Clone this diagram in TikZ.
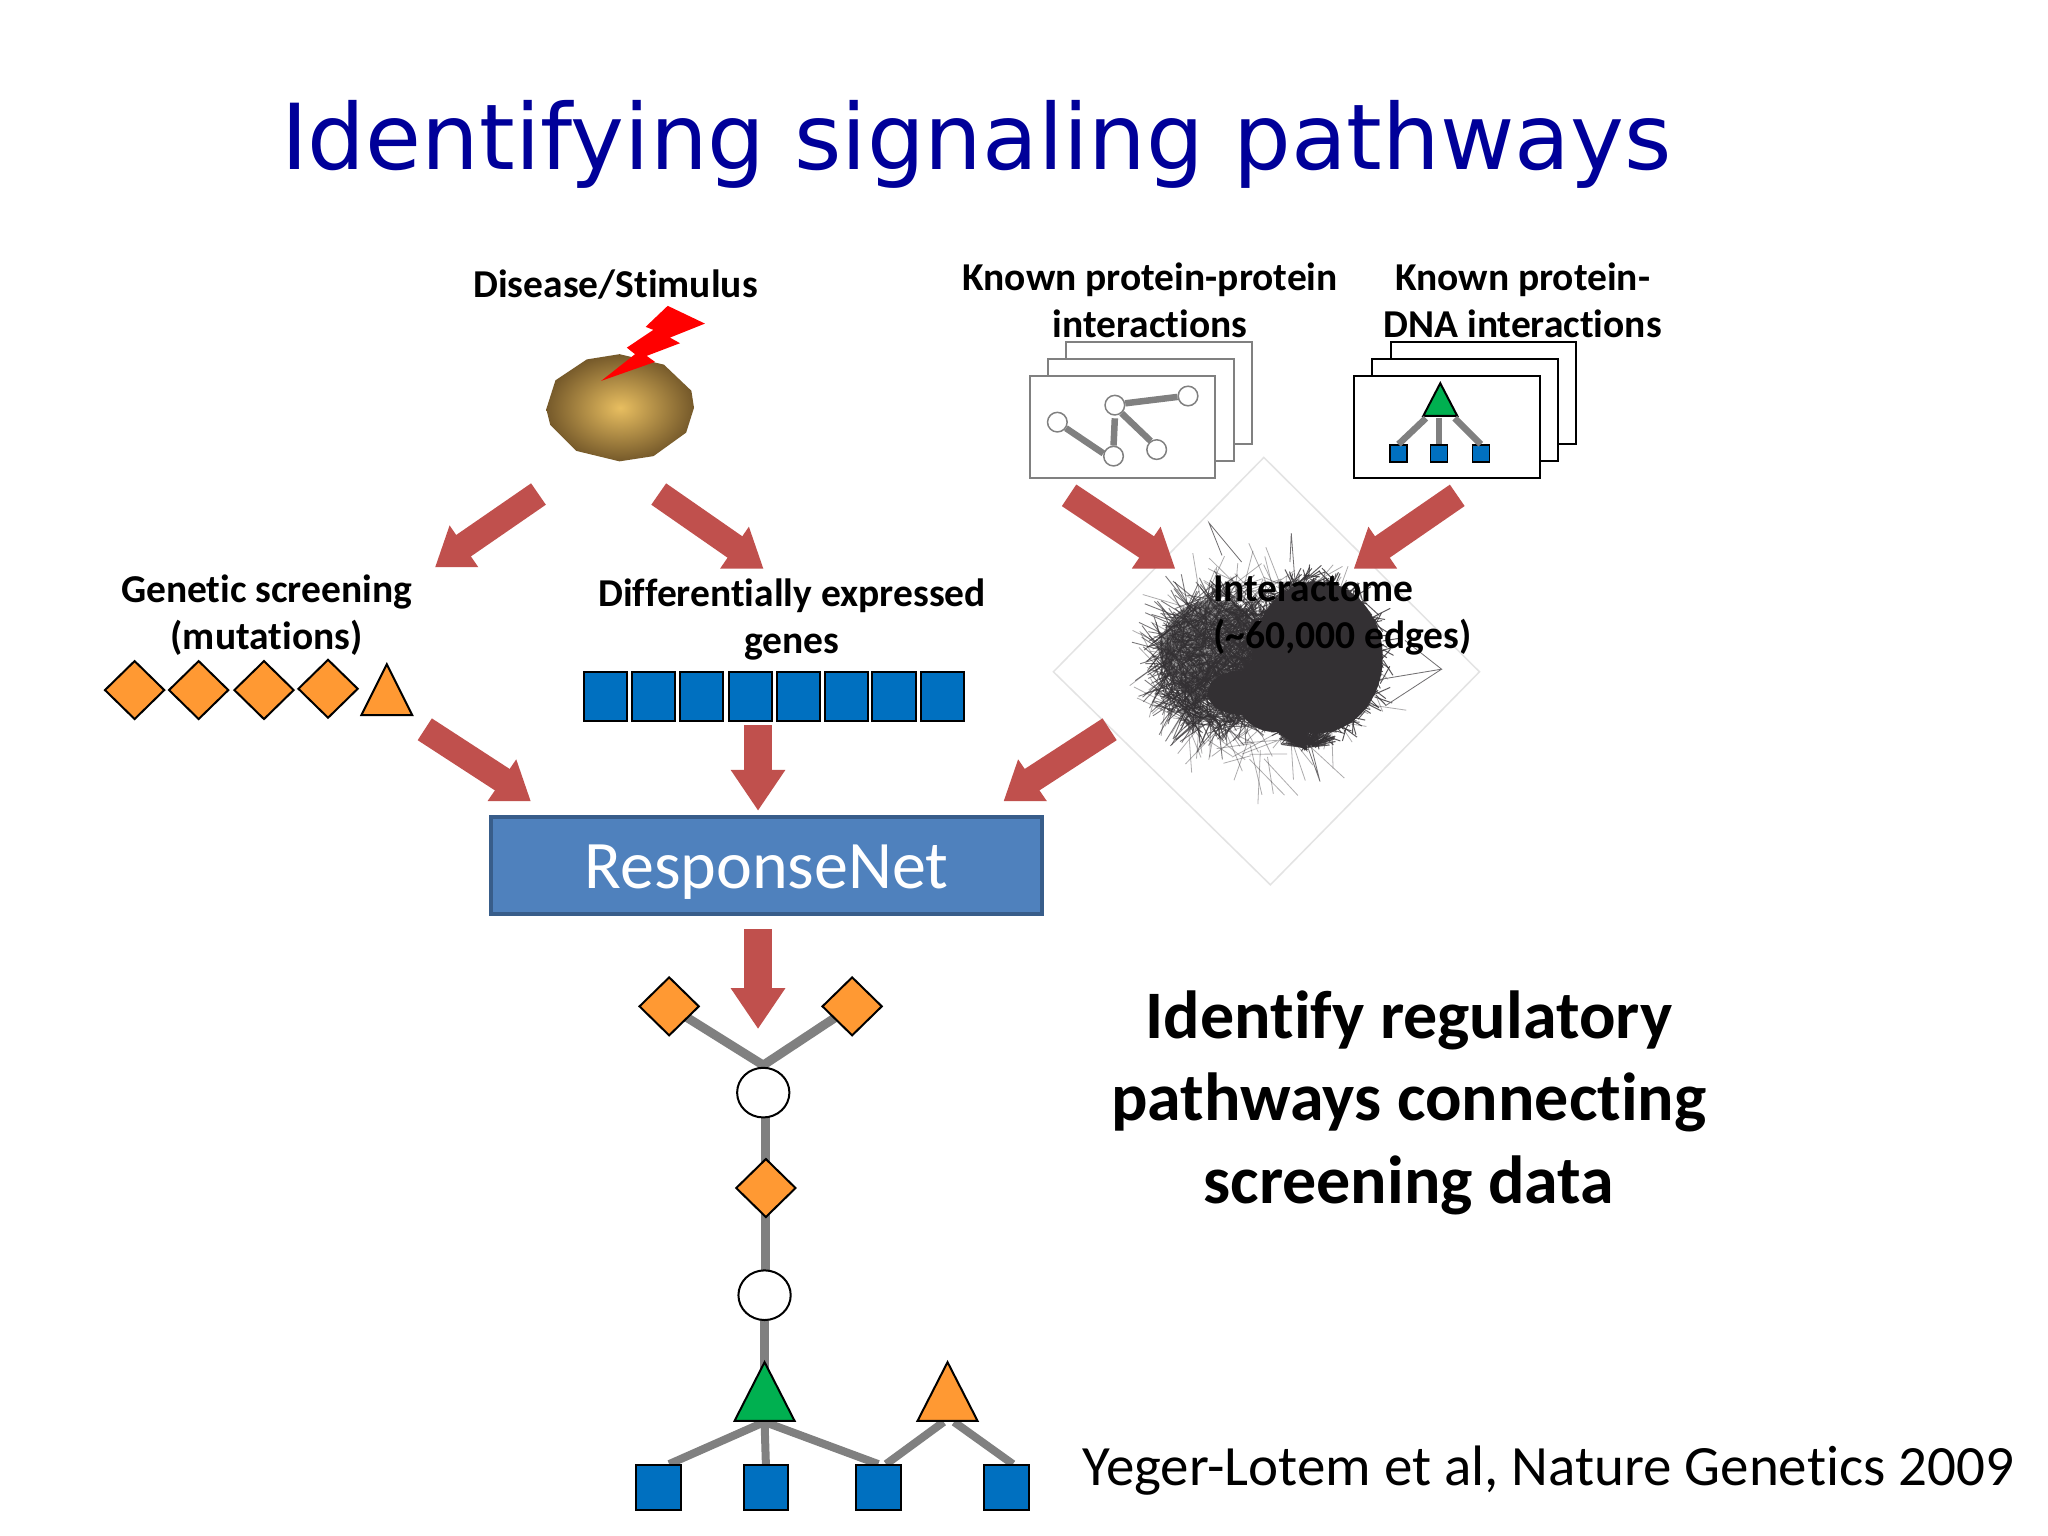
\documentclass[tikz,border=0pt]{standalone}
\usepackage{fontspec}
\setmainfont[Ligatures=NoCommon]{Carlito}
\newfontfamily\titlefont{DejaVu Sans}
\usetikzlibrary{shapes.geometric,calc,backgrounds}
\definecolor{titleblue}{HTML}{000099}
\definecolor{orangefill}{HTML}{FF9933}
\definecolor{bluefill}{HTML}{0070C0}
\definecolor{greenfill}{HTML}{00B050}
\definecolor{edgegray}{HTML}{808080}
\definecolor{arrowred}{HTML}{C0504D}
\definecolor{netdark}{HTML}{333033}
\definecolor{rnfill}{HTML}{4F81BD}
\definecolor{rnborder}{HTML}{385D8A}
\definecolor{cellin}{HTML}{E8BE60}
\definecolor{cellout}{HTML}{75592A}
\def\uu{1.30696pt}
\tikzset{
  lab/.style={font=\fontsize{39.5}{47}\selectfont\bfseries,align=center,inner sep=0,text=black},
  shaft/.style={draw=arrowred,line width=26},
  head/.style={fill=arrowred},
  ddia/.style={diamond,draw=black,line width=2,fill=orangefill,minimum width=46*\uu,minimum height=45*\uu,inner sep=0,aspect=1},
  sq/.style={rectangle,draw=black,line width=2,fill=bluefill,minimum width=33*\uu,minimum height=37*\uu,inner sep=0},
  sqb/.style={sq,minimum width=34*\uu,minimum height=34*\uu},
  sqs/.style={sq,line width=1.5,minimum width=13*\uu,minimum height=13*\uu},
  tri/.style={isosceles triangle,isosceles triangle stretches,shape border rotate=90,draw=black,line width=2,inner sep=0,anchor=lower side,minimum width=46*\uu,minimum height=45*\uu},
  circ/.style={ellipse,draw=black,line width=2,fill=white,minimum width=40*\uu,minimum height=38*\uu,inner sep=0},
  cs/.style={circle,draw=edgegray,line width=1.5,fill=white,minimum size=15*\uu,inner sep=0},
  edge/.style={draw=edgegray,line width=9},
  edges/.style={draw=edgegray,line width=8},
  edget/.style={draw=edgegray,line width=6.5},
  pagegray/.style={draw=edgegray,line width=2,fill=white},
  pageblack/.style={draw=black,line width=2,fill=white},
}
\begin{document}
\begin{tikzpicture}[x=1.30696pt,y=-1.30696pt]
\useasboundingbox (0,0) rectangle (1567,1175);
\begin{pgfonlayer}{background}
\fill[white] (0,0) rectangle (1567,1175);
\end{pgfonlayer}

\node[anchor=base,inner sep=0,text=titleblue,font=\titlefont\fontsize{91}{100}\selectfont] (title) at (747,130) {Identifying signaling pathways};

% interactome
\draw[draw=black!11,line width=1.5] (967,350) -- (1132,514) -- (972,677) -- (806,514) -- cycle;
\pgfmathsetseed{4711}
% sparse outer web
\foreach \i in {1,...,280}{
  \pgfmathsetmacro\ang{rnd*360}
  \pgfmathsetmacro\rr{0.55+0.45*rnd}
  \pgfmathsetmacro\xa{965+82*\rr*cos(\ang)}
  \pgfmathsetmacro\ya{510+72*\rr*sin(\ang)}
  \pgfmathsetmacro\angb{rnd*360}
  \pgfmathsetmacro\lb{15+rnd*30}
  \pgfmathsetmacro\xb{\xa+\lb*cos(\angb)}
  \pgfmathsetmacro\yb{\ya+\lb*sin(\angb)}
  \draw[netdark,line width=0.8,opacity=.4] (\xa,\ya) -- (\xb,\yb);
}
% denser left web
\fill[netdark,opacity=.5] (928,497) ellipse (40 and 38);
\foreach \i in {1,...,1500}{
  \pgfmathsetmacro\ang{rnd*360}
  \pgfmathsetmacro\rr{sqrt(rnd)}
  \pgfmathsetmacro\xa{932+46*\rr*cos(\ang)}
  \pgfmathsetmacro\ya{507+52*\rr*sin(\ang)}
  \pgfmathsetmacro\xb{\xa+rand*24}
  \pgfmathsetmacro\yb{\ya+rand*24}
  \draw[netdark,line width=0.9,opacity=.65] (\xa,\ya) -- (\xb,\yb);
}
% core of right blob, fringe of short edges
\foreach \i in {1,...,1000}{
  \pgfmathsetmacro\ang{rnd*360}
  \pgfmathsetmacro\rr{0.6+0.4*rnd}
  \pgfmathsetmacro\xa{1006+53*\rr*cos(\ang)}
  \pgfmathsetmacro\ya{503+62*\rr*sin(\ang)}
  \pgfmathsetmacro\xb{\xa+rand*14}
  \pgfmathsetmacro\yb{\ya+rand*14}
  \draw[netdark,line width=1,opacity=.8] (\xa,\ya) -- (\xb,\yb);
}
\foreach \i in {1,...,90}{
  \pgfmathsetmacro\xa{985+rand*16}
  \pgfmathsetmacro\xb{1000+rand*22}
  \pgfmathsetmacro\yb{560+rand*10}
  \draw[netdark,line width=1.2,opacity=.8] (\xa,555) -- (998,572) -- (\xb,\yb);
}
\draw[netdark!70,line width=0.8] (1055,520) -- (1103,512) -- (1075,490);
\draw[netdark!70,line width=0.8] (1060,540) -- (1103,512);
\draw[netdark!70,line width=0.8] (987,430) -- (988,408) -- (992,460);
\draw[netdark!70,line width=0.8] (950,430) -- (925,400) -- (935,425);
\draw[netdark!70,line width=0.8] (1000,570) -- (1010,598) -- (1003,570);
\fill[netdark] (1008,503) ellipse (50 and 58);
\fill[netdark] (950,530) ellipse (26 and 17);
\fill[netdark] (975,530) ellipse (30 and 30);

% labels
\node[lab] (disease) at (471,218) {Disease/Stimulus};
\node[lab] (ppi) at (880,230) {Known protein-protein\\interactions};
\node[lab] (pdna) at (1165,230) {Known protein-\\DNA interactions};
\node[lab] (genetic) at (204,470.5) {Genetic screening\\(mutations)};
\node[lab] (diffex) at (606,474) {Differentially expressed\\genes};
\node[lab,align=left,anchor=west] (interact) at (928,471) {Interactome\\(\textasciitilde 60,000 edges)};

% cell and bolt
\shade[inner color=cellin,outer color=cellout] (418,313) -- (425,291) -- (449,275) -- (474,271) -- (508,279) -- (529,299) -- (531,312) -- (525,331) -- (500,349) -- (474,353) -- (441,345) -- (421,325) -- cycle;
\fill[red] (510.9,234) -- (539.4,247.6) -- (512.6,258.3) -- (520.3,262.6) -- (494.8,272.3) -- (501.2,276.9) -- (460,291.4) -- (485.9,271) -- (479.6,266) -- (499.9,252.4) -- (494,250.1) -- cycle;

% PPI stack
\draw[pagegray] (816,262) rectangle (958,340);
\draw[pagegray] (802,275) rectangle (944,353);
\draw[pagegray] (788,288) rectangle (930,366);
\node[cs] (p1) at (809,323) {};
\node[cs] (p2) at (853,310) {};
\node[cs] (p3) at (909,303) {};
\node[cs] (p4) at (852,349) {};
\node[cs] (p5) at (885,344) {};
\draw[edget] (p1.-35) -- (p4.165);
\draw[edget] (p2.10) -- (p3.185);
\draw[edget] ($(p2.south)+(0,2)$) -- (p4.north);
\draw[edget] (p2.-50) -- (p5.125);

% PDNA stack
\draw[pageblack] (1064,262) rectangle (1206,340);
\draw[pageblack] (1050,275) rectangle (1192,353);
\draw[pageblack] (1036,288) rectangle (1178,366);
\node[sqs] (q1) at (1070,347) {};
\node[sqs] (q2) at (1101,347) {};
\node[sqs] (q3) at (1133,347) {};
\node[tri,fill=greenfill,minimum width=26*\uu,minimum height=25*\uu] (qt) at (1102,319) {};
\draw[edget] ($(qt.lower side)+(-11,1)$) -- (q1.north);
\draw[edget] ($(qt.lower side)+(-1,1)$) -- (q2.north);
\draw[edget] ($(qt.lower side)+(11,1)$) -- (q3.north);

% rows
\node[ddia] (m1) at (103,528) {};
\node[ddia] (m2) at (152,528) {};
\node[ddia] (m3) at (202,528) {};
\node[ddia] (m4) at (251,527) {};
\node[tri,fill=orangefill,minimum width=39*\uu,minimum height=39*\uu] (m5) at (296,548) {};
\foreach \n/\x in {1/463,2/500,3/537,4/574,5/611,6/648,7/684,8/721}{
  \node[sq] (g\n) at (\x,533) {};
}

% ResponseNet
\node[rectangle,draw=rnborder,fill=rnfill,line width=4,minimum width=421*\uu,minimum height=74*\uu,inner sep=0,text=white,text height=47pt,text depth=0pt,font=\fontsize{68}{70}\selectfont] (rn) at (586.5,662) {ResponseNet};

% big arrows
\coordinate (a1s) at (412,378); \coordinate (a1t) at (333,434);
\coordinate (a2s) at (504,378); \coordinate (a2t) at (584,435);
\coordinate (a3s) at (818,379); \coordinate (a3t) at (899,435);
\coordinate (a4s) at (1115,379); \coordinate (a4t) at (1036,435);
\coordinate (a5s) at (325,558); \coordinate (a5t) at (406,613);
\coordinate (a6s) at (849,558); \coordinate (a6t) at (768,613);
\coordinate (a7s) at (580,555); \coordinate (a7t) at (580,620);
\coordinate (a8s) at (580,711); \coordinate (a8t) at (580,787);
\foreach \s/\t in {a1s/a1t,a4s/a4t,a6s/a6t}{
  \draw[shaft] (\s) -- ($(\t)+(21,-16)$);
  \fill[head] (\t) -- ++(33,0) -- ++(-22,-32) -- cycle;
}
\foreach \s/\t in {a2s/a2t,a3s/a3t,a5s/a5t}{
  \draw[shaft] (\s) -- ($(\t)+(-21,-16)$);
  \fill[head] (\t) -- ++(-33,0) -- ++(22,-32) -- cycle;
}
\foreach \s/\t in {a7s/a7t,a8s/a8t}{
  \draw[shaft,line width=28] (\s) -- ($(\t)+(0,-29)$);
  \fill[head] (\t) -- ++(-21,-31) -- ++(42,0) -- cycle;
}

% pathway
\node[ddia] (t1) at (512,770) {};
\node[ddia] (t2) at (652,770) {};
\coordinate (tj) at (584,815);
\node[circ] (c1) at (584,836) {};
\node[ddia] (d3) at (586,909) {};
\node[circ] (c2) at (585,991) {};
\node[tri,fill=greenfill] (tg) at (585,1088) {};
\node[tri,fill=orangefill] (to) at (725,1088) {};
\node[sqb] (s1) at (504,1138) {};
\node[sqb] (s2) at (586,1138) {};
\node[sqb] (s3) at (672,1138) {};
\node[sqb] (s4) at (770,1138) {};
\begin{pgfonlayer}{background}
\draw[edge] (t1.center) -- (tj) -- (t2.center);
\draw[edge] (c1 -| d3) -- (d3.center);
\draw[edge] (d3.center) -- (c2 -| d3);
\draw[edge] (c2.center) -- (tg.center);
\draw[edges] (tg.lower side) -- ($(s1.north)+(8,0)$);
\draw[edges] (tg.lower side) -- (s2.north);
\draw[edges] (tg.lower side) -- (s3.north);
\draw[edges] ($(to.lower side)+(-3,0)$) -- ($(s3.north)+(6,0)$);
\draw[edges] ($(to.lower side)+(5,0)$) -- ($(s4.north)+(5,0)$);
\end{pgfonlayer}

\node[align=center,inner sep=0,font=\fontsize{68}{82.5}\selectfont\bfseries] (claim) at (1078,843.5) {Identify regulatory\\pathways connecting\\screening data};
\node[anchor=west,inner sep=0,font=\fontsize{57}{60}\selectfont] (cite) at (828,1125) {Yeger-Lotem et al, Nature Genetics 2009};
\end{tikzpicture}
\end{document}
